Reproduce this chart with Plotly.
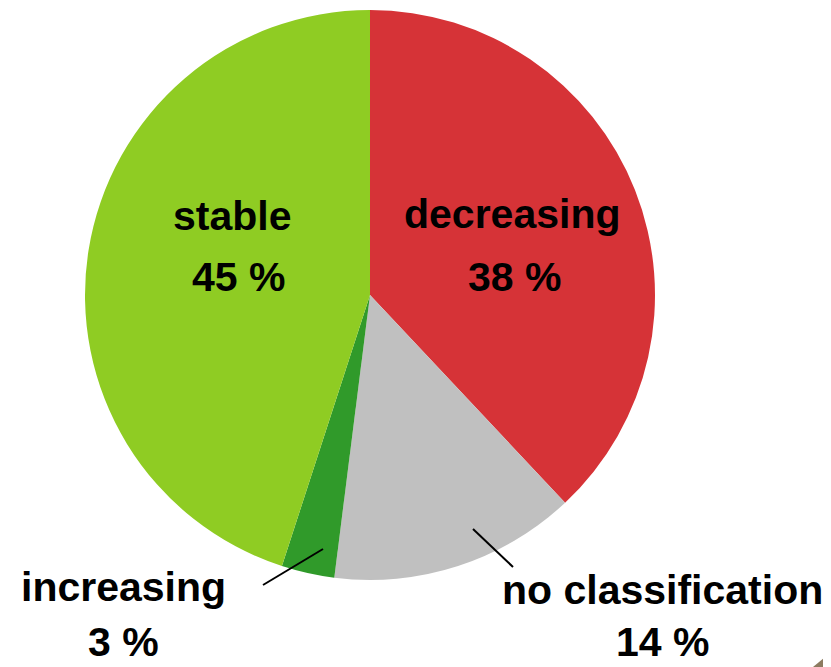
import plotly.graph_objects as go

OFF = 8  # default page body margin
W, H = 831 - OFF, 667 - OFF

categories = ["decreasing", "no classification", "increasing", "stable"]
values = [38, 14, 3, 45]
colors = ["#D63337", "#C0C0C0", "#309A2A", "#8FCC23"]


def px(x):
    return (x - OFF) / W


def py(y):
    return 1 - (y - OFF) / H


fig = go.Figure(
    go.Pie(
        labels=categories,
        values=values,
        sort=False,
        direction="clockwise",
        rotation=0,
        marker=dict(colors=colors, line=dict(width=0)),
        textinfo="none",
        hoverinfo="label+percent",
        domain=dict(x=[px(85), px(655)], y=[py(580), py(10)]),
    )
)

font = dict(family="Liberation Sans, Arial, sans-serif", size=41, color="black")

label_pos = {
    "stable": ((232, 216), (238, 277)),
    "decreasing": ((512, 214), (514, 277)),
    "increasing": ((123, 587), (123, 642)),
    "no classification": ((662, 590), (662, 642)),
}
pct = dict(zip(categories, values))

annotations = []
for cat, ((x1, y1), (x2, y2)) in label_pos.items():
    annotations.append(dict(x=px(x1), y=py(y1), xref="paper", yref="paper",
                            text=f"<b>{cat}</b>", showarrow=False, font=font,
                            xanchor="center", yanchor="middle"))
    annotations.append(dict(x=px(x2), y=py(y2), xref="paper", yref="paper",
                            text=f"<b>{pct[cat]} %</b>", showarrow=False, font=font,
                            xanchor="center", yanchor="middle", borderpad=0))

shapes = [
    dict(type="line", xref="paper", yref="paper",
         x0=px(263), y0=py(585), x1=px(323), y1=py(549),
         line=dict(color="black", width=2)),
    dict(type="line", xref="paper", yref="paper",
         x0=px(473), y0=py(529), x1=px(513), y1=py(567),
         line=dict(color="black", width=2)),
    dict(type="path", xref="paper", yref="paper",
         path=f"M {px(813)},{py(667)} L {px(831)},{py(667)} L {px(831)},{py(652)} Z",
         fillcolor="#8C7B60", line=dict(width=0)),
]

fig.update_layout(
    width=W, height=H,
    margin=dict(l=0, r=0, t=0, b=0),
    paper_bgcolor="white",
    plot_bgcolor="white",
    showlegend=False,
    annotations=annotations,
    shapes=shapes,
)

fig.write_html("out.html")
